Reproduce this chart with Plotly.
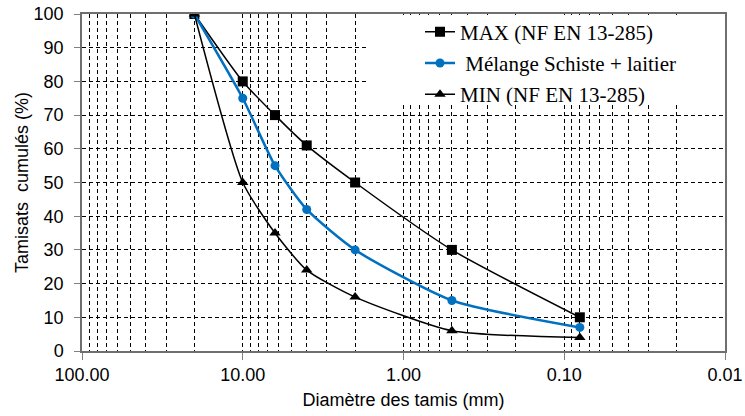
import plotly.graph_objects as go

diam = [20, 10, 6.3, 4, 2, 0.5, 0.08]
max_vals = [100, 80, 70, 61, 50, 30, 10]
mix_vals = [100, 75, 55, 42, 30, 15, 7]
min_vals = [100, 50, 35, 24, 16, 6, 4]

major_ticks = [100, 10, 1, 0.1, 0.01]
major_text = ["100.00", "10.00", "1.00", "0.10", "0.01"]
minor_ticks = [m * d for d in [10, 1, 0.1, 0.01] for m in range(2, 10)]

names = ["MAX (NF EN 13-285)", "\u00a0Mélange Schiste + laitier", "MIN (NF EN 13-285)"]

fig = go.Figure()
fig.add_trace(go.Scatter(x=diam, y=max_vals, name=names[0], mode="lines+markers",
                         line=dict(color="black", width=1.5, shape="spline", smoothing=0.6),
                         marker=dict(symbol="square", size=10, color="black"),
                         legendgroup="a"))
fig.add_trace(go.Scatter(x=diam, y=mix_vals, name=names[1], mode="lines+markers",
                         line=dict(color="#0070C0", width=2.5, shape="spline", smoothing=0.6),
                         marker=dict(symbol="circle", size=9, color="#0070C0"),
                         legendgroup="b"))
fig.add_trace(go.Scatter(x=diam, y=min_vals, name=names[2], mode="lines+markers",
                         line=dict(color="black", width=1.5, shape="spline", smoothing=0.6),
                         marker=dict(symbol="triangle-up", size=10, color="black"),
                         legendgroup="c"))

grid = dict(gridcolor="black", griddash="4px,3px", gridwidth=1)

fig.update_xaxes(type="log", range=[2, -2], tickvals=major_ticks, ticktext=major_text,
                 showgrid=True, **grid, automargin=False,
                 minor=dict(tickvals=minor_ticks, showgrid=True, ticks="", **grid),
                 ticks="outside", ticklen=7, tickcolor="#7f7f7f",
                 showline=True, linecolor="#6f6f6f", linewidth=1.5, mirror=True,
                 zeroline=False,
                 tickfont=dict(family="Liberation Sans", size=18, color="black"),
                 title=dict(text="Diamètre des tamis (mm)", standoff=9,
                            font=dict(family="Liberation Sans", size=18, color="black")))
fig.update_yaxes(range=[0, 100], dtick=10, showgrid=True, **grid, automargin=False,
                 ticks="outside", ticklen=6, tickcolor="#7f7f7f", ticklabelstandoff=7,
                 showline=True, linecolor="#6f6f6f", linewidth=1.5, mirror=True,
                 zeroline=False,
                 tickfont=dict(family="Liberation Sans", size=18, color="black"),
                 title=dict(text="Tamisats\u00a0 cumulés (%)", standoff=0,
                            font=dict(family="Liberation Sans", size=18, color="black")))

fig.add_shape(type="rect", xref="x domain", yref="y domain",
              x0=(366 - 82) / 643, x1=0.998, y0=(351 - 103) / 337, y1=0.997,
              fillcolor="white", line=dict(width=0), layer="above")

fig.update_layout(
    width=745, height=416,
    margin=dict(l=82, r=20, t=14, b=65, autoexpand=False),
    paper_bgcolor="white", plot_bgcolor="white",
    showlegend=True,
    legend=dict(x=(420 - 82) / 643, xanchor="left",
                yref="container", y=1 - 11.5 / 416, yanchor="top",
                bgcolor="rgba(0,0,0,0)", borderwidth=0,
                traceorder="grouped", tracegroupgap=1,
                font=dict(family="Liberation Serif", size=21, color="black")),
)

fig.write_html("out.html")
